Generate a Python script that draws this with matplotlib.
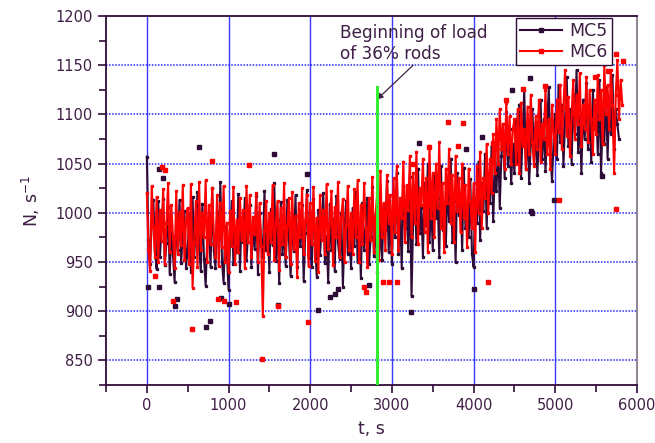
import matplotlib
matplotlib.use("Agg")
import matplotlib.pyplot as plt
import numpy as np

plt.rcParams['font.family'] = ['DejaVu Sans']

# ---- data (count rate N vs time t, 20 s step) ----
step = 20

mc5 = [
    1057, 972, 948, 991, 1013, 961, 943, 1012, 955, 984, 1014, 947, 969, 1006, 938, 981, 957, 930, 998, 962, 1013, 949, 977, 1002, 944,
    963, 999, 940, 1016, 955, 987, 1021, 968, 941, 1009, 953, 926, 975, 990, 945, 1025, 962, 944, 1001, 973, 1031, 950, 929, 986, 958,
    922, 976, 1012, 948, 985, 960, 1019, 941, 995, 970, 1015, 952, 980, 1008, 945, 990, 963, 1017, 938, 1000, 972, 955, 1022, 962, 985,
    940, 1004, 967, 1030, 951, 993, 929, 1011, 958, 983, 946, 1013, 972, 936, 998, 961, 1018, 945, 988, 966, 1008, 931, 979, 1023, 954,
    992, 945, 1014, 968, 935, 1003, 957, 987, 1020, 949, 976, 930, 1009, 962, 994, 941, 1017, 970, 953, 1000, 925, 983, 1012, 958, 973,
    944, 1005, 966, 1021, 950, 991, 934, 1010, 962, 985, 1015, 948, 975, 1026, 956, 999, 940, 1018, 972, 952, 1008, 983, 1032, 960, 995,
    948, 1019, 975, 1040, 958, 1002, 944, 1027, 985, 1010, 961, 1036, 915, 992, 1022, 968, 1045, 979, 1005, 955, 1030, 988, 1050, 970, 1012,
    962, 1038, 995, 1015, 955, 1048, 983, 1007, 966, 1030, 992, 1055, 970, 1012, 950, 1040, 998, 1020, 962, 1046, 985, 1010, 975, 1034, 958,
    945, 1015, 990, 1052, 972, 1030, 1002, 1060, 985, 1040, 1010, 1068, 992, 1045, 1022, 1075, 1005, 1058, 1090, 1035, 1102, 1048, 1085, 1030, 1070,
    1040, 1095, 1052, 1110, 1035, 1078, 1125, 1045, 1088, 1030, 1070, 1105, 1050, 1092, 1038, 1080, 1115, 1055, 1095, 1042, 1085, 1128, 1060, 1032, 1075,
    1100, 1055, 1130, 1072, 1110, 1048, 1095, 1138, 1068, 1105, 1050, 1120, 1080, 1145, 1062, 1098, 1040, 1115, 1075, 1132, 1065, 1100, 1052, 1125, 1085,
    1110, 1060, 1135, 1040, 1095, 1070, 1128, 1055, 1112, 1080, 1140, 1065, 1105, 1090, 1075,
]

mc6 = [
    1020, 962, 941, 1027, 986, 955, 1016, 950, 1003, 971, 1024, 948, 990, 1030, 960, 1008, 975, 944, 1022, 958, 1001, 967, 1028, 952, 991,
    1005, 948, 1029, 924, 970, 1012, 945, 1031, 962, 1000, 975, 1033, 950, 1008, 968, 1025, 976, 955, 1018, 946, 1010, 965, 1027, 950, 990,
    940, 1002, 966, 1026, 948, 993, 960, 1015, 972, 1003, 944, 1027, 970, 1018, 955, 996, 978, 1020, 950, 1010, 966, 895, 982, 1012, 958,
    1000, 970, 1028, 952, 990, 1012, 942, 1005, 968, 1030, 955, 987, 1015, 948, 1021, 963, 997, 935, 1010, 975, 1025, 958, 992, 1018, 946,
    1010, 968, 1026, 951, 995, 940, 1018, 972, 1003, 958, 1029, 963, 990, 1022, 947, 1006, 975, 1031, 955, 996, 1014, 950, 988, 1027, 962,
    1000, 958, 1024, 975, 1033, 950, 1008, 968, 1030, 985, 945, 1015, 972, 1036, 960, 998, 1020, 952, 1042, 975, 1010, 962, 1038, 990, 1018,
    958, 1035, 980, 1048, 962, 1015, 995, 1052, 970, 1028, 1003, 1058, 975, 1040, 990, 1062, 968, 1025, 1008, 1055, 980, 1035, 960, 1068, 995,
    1040, 975, 1050, 1005, 1072, 985, 1030, 960, 1045, 1010, 1065, 990, 1038, 970, 1058, 1002, 1035, 980, 1050, 995, 1028, 965, 1045, 1012, 985,
    1030, 960, 1048, 1000, 1062, 985, 1035, 1015, 1070, 1000, 1055, 1020, 1080, 1040, 1095, 1050, 1105, 1065, 1090, 1045, 1112, 1060, 1098, 1050, 1085,
    1095, 1050, 1105, 1040, 1112, 1068, 1085, 1045, 1108, 1060, 1120, 1072, 1048, 1098, 1065, 1115, 1052, 1090, 1075, 1125, 1060, 1095, 1045, 1110, 1080,
    1060, 1115, 1082, 1130, 1065, 1108, 1145, 1078, 1118, 1058, 1100, 1135, 1075, 1120, 1090, 1142, 1068, 1110, 1085, 1138, 1072, 1125, 1095, 1060, 1115,
    1080, 1140, 1095, 1125, 1070, 1150, 1100, 1130, 1085, 1145, 1110, 1040, 1120, 1155, 1095, 1135, 1110,
]

# isolated points that stand apart from the lines
mc5_dot_t = [150, 200, 640, 1555, 1955, 10, 150, 350, 370, 720, 770, 910, 1000, 1600, 2095,
             2240, 2300, 2340, 2720, 3230, 3330, 3905, 4010, 4100, 4470, 4690, 4700, 4720, 4980, 5570]
mc5_dot_v = [1045, 1035, 1067, 1060, 1039, 925, 925, 905, 912, 884, 890, 913, 907, 906, 901,
             914, 917, 923, 927, 899, 1071, 1065, 923, 1077, 1125, 1137, 1002, 1000, 1013, 1037]

mc6_dot_t = [100, 185, 225, 320, 550, 795, 870, 950, 1090, 1250, 1410, 1600, 1970, 2660, 2680, 2890, 2965,
             3060, 3255, 3450, 3690, 3805, 3870, 4175, 4235, 4395, 4600, 4870, 5040, 5490, 5640, 5740, 5745, 5830]
mc6_dot_v = [936, 1047, 1043, 910, 882, 1053, 912, 910, 909, 1049, 851, 905, 889, 925, 920, 930, 930,
             930, 1050, 1067, 1092, 1068, 1091, 930, 1071, 1115, 1126, 1129, 1013, 1138, 1144, 1161, 1004, 1154]

load_t = 2815        # start of load of 36% rods
load_top = 1128

t5 = np.arange(len(mc5)) * step
t6 = np.arange(len(mc6)) * step

dark = '#2e0b36'
red = '#ff0000'
txt = '#3f1f45'

fig = plt.figure(figsize=(6.55, 4.43), dpi=100)
ax = fig.add_axes([0.1618, 0.1309, 0.8107, 0.833])

ax.plot(t5, mc5, color=dark, lw=1.5, marker='s', ms=1.4, label='MC5', zorder=3)
ax.plot(mc5_dot_t, mc5_dot_v, ls='none', color=dark, marker='s', ms=2.4, zorder=3)
ax.plot(t6, mc6, color=red, lw=1.5, marker='s', ms=1.4, label='MC6', zorder=4)
ax.plot(mc6_dot_t, mc6_dot_v, ls='none', color=red, marker='s', ms=2.4, zorder=4)

ax.plot([load_t, load_t], [825, load_top], color='#33ee33', lw=2.2, zorder=5)

ax.text(2360, 1192, 'Beginning of load\nof 36% rods', color=txt, fontsize=12.2,
        ha='left', va='top', linespacing=1.25)
ax.annotate('', xy=(load_t, 1115), xytext=(3260, 1150),
            arrowprops=dict(arrowstyle='-|>', color=txt, lw=0.9, mutation_scale=9,
                            shrinkA=0, shrinkB=0))

ax.set_xlim(-500, 6000)
ax.set_ylim(825, 1200)
ax.set_xticks(np.arange(0, 6001, 1000))
ax.set_xticks(np.arange(-500, 6001, 500), minor=True)
ax.set_yticks(np.arange(850, 1201, 50))
ax.set_yticks(np.arange(825, 1201, 25), minor=True)

for x in range(0, 6000, 1000):
    ax.axvline(x, color='#3b3bff', lw=1.0, zorder=1)
for y in range(850, 1200, 50):
    ax.axhline(y, color='#2828ff', lw=1.1, ls=(0, (1, 1)), zorder=1)

ax.tick_params(which='both', direction='out', colors=dark, labelcolor=txt, labelsize=10.5, width=1.2)
ax.tick_params(which='major', length=6)
ax.tick_params(which='minor', length=5)
for s in ['left', 'bottom', 'top']:
    ax.spines[s].set_color(dark)
    ax.spines[s].set_linewidth(1.3)
ax.spines['right'].set_color('#8a7a8c')
ax.spines['right'].set_linewidth(1.3)

ax.set_xlabel('t, s', color=txt, fontsize=12.5, labelpad=5)
ax.set_ylabel('N, s$^{-1}$', color=txt, fontsize=12.5, labelpad=10)

leg = ax.legend(loc='upper left', bbox_to_anchor=(0.772, 0.995), fontsize=12.5, frameon=True,
                fancybox=False, edgecolor=dark, framealpha=1, borderpad=0.25, handlelength=2.4,
                handletextpad=0.4, labelspacing=0.15, borderaxespad=0)
leg.get_frame().set_linewidth(1.0)
for h in leg.legend_handles:
    h.set_markersize(3)
for t in leg.get_texts():
    t.set_color(txt)

fig.savefig('out.png', dpi=100)
